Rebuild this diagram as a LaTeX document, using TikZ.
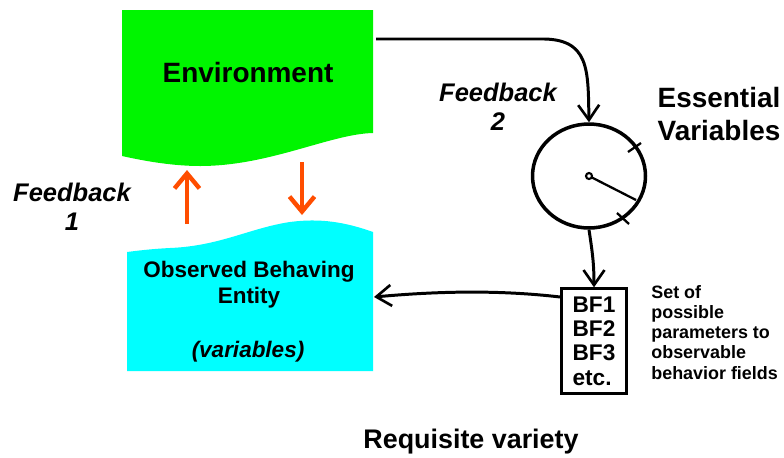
\documentclass[tikz,border=0pt]{standalone}
\usepackage{fontspec}
\setmainfont{Liberation Sans}
\usepackage{tikz}
\usetikzlibrary{
  shapes.geometric,
  arrows.meta,
  positioning,  % Function "of" (e.g. [below=of x])
  calc,         % Calculations $...$
}
\definecolor{envgreen}{RGB}{0,245,0}
\definecolor{entcyan}{RGB}{0,255,255}
\definecolor{fbred}{RGB}{255,77,0}
\tikzset{
  font=\bfseries,
  semithick,
  >={Straight Barb[length=3mm,width=4.2mm,line width=1.5pt]},
  inv/.style={
    draw=none,
    inner sep=0pt
  },
  flow/.style={
    ->,
    line width=1.7pt
  },
  fb arrow/.style={
    -{Straight Barb[length=3mm,width=5mm,line width=2.5pt]},
    line width=2.6pt,
    color=fbred
  },
  big label/.style={
    inv,
    font=\fontsize{15.9}{19}\selectfont\bfseries
  },
  fb label/.style={
    inv,
    align=center,
    font=\fontsize{14.5}{16.5}\selectfont\bfseries\itshape
  },
  ent label/.style={
    inv,
    align=center,
    font=\fontsize{12.8}{14.8}\selectfont\bfseries
  },
  bf box/.style={
    draw,
    line width=1.6pt,
    align=left,
    inner xsep=2.2mm,
    inner ysep=1.6mm,
    font=\fontsize{12.9}{13.8}\selectfont\bfseries
  },
  note/.style={
    inv,
    align=left,
    font=\fontsize{10.2}{11.5}\selectfont\bfseries
  }
}
\begin{document}
\begin{tikzpicture}[x=0.02cm,y=-0.02cm]
\useasboundingbox (0,0) rectangle (784,457);
% environment and entity
\fill[envgreen] (122,10) -- (373,10) -- (373,133)
  .. controls (330,134) and (270,166) .. (200,166)
  .. controls (170,166) and (140,160) .. (122,156) -- cycle;
\fill[entcyan] (127,371) -- (373,371) -- (373,232)
  .. controls (345,222) and (320,218) .. (290,222)
  .. controls (250,228) and (220,246) .. (170,248)
  .. controls (150,249) and (135,251) .. (127,252) -- cycle;
\node[big label] (env) at (248,73) {Environment};
\node[ent label] (obs) at (249,285) {Observed Behaving\\Entity};
\node[ent label,font=\fontsize{12.8}{14.8}\selectfont\bfseries\itshape]
  (vars) at (248,352) {(variables)};
\coordinate (env top) at (376,39);
\coordinate (env up) at (187,170);
\coordinate (env down) at (302,162);
\coordinate (ent up) at (187,224);
\coordinate (ent down) at (302,215);
\coordinate (ent east) at (374,297);
% feedback 1
\draw[fb arrow] (ent up) -- (env up);
\draw[fb arrow] (env down) -- (ent down);
\node[fb label] (fb1) at (72,207) {Feedback\\1};
% gauge
\node[draw,ellipse,line width=2pt,inner sep=0pt,
  minimum width=2.26cm,minimum height=2.08cm] (gauge) at (589,176) {};
\coordinate (needle) at (636,200);
\draw[line width=1.3pt] (gauge.center) -- (needle);
\draw[fill=white,line width=1.2pt] (gauge.center) circle[radius=3];
\draw[line width=1.3pt] (628,152) -- (641,143);
\draw[line width=1.3pt] (617,213) -- (629,224);
\node[big label,align=center] (ess) at (719,114)
  {Essential\\Variables};
% feedback 2
\draw[flow] (env top) -- (540,39)
  .. controls (590,38) and (588,70) .. (gauge.north);
\node[fb label] (fb2) at (498,107) {Feedback\\2};
% behaviour fields
\node[bf box] (bf) at (594,341) {BF1\\BF2\\BF3\\etc.};
\draw[flow] (gauge.south) .. controls (592,250) and (594,262) .. (bf.north);
\draw[flow] (bf.west |- ent east) .. controls (500,290) and (440,291) .. (ent east);
\node[note,anchor=north west] (set) at (651,285)
  {Set of\\possible\\parameters to\\observable\\behavior fields};
\node[big label,font=\fontsize{15.3}{17}\selectfont\bfseries] (req) at (471,442)
  {Requisite variety};
\end{tikzpicture}
\end{document}
